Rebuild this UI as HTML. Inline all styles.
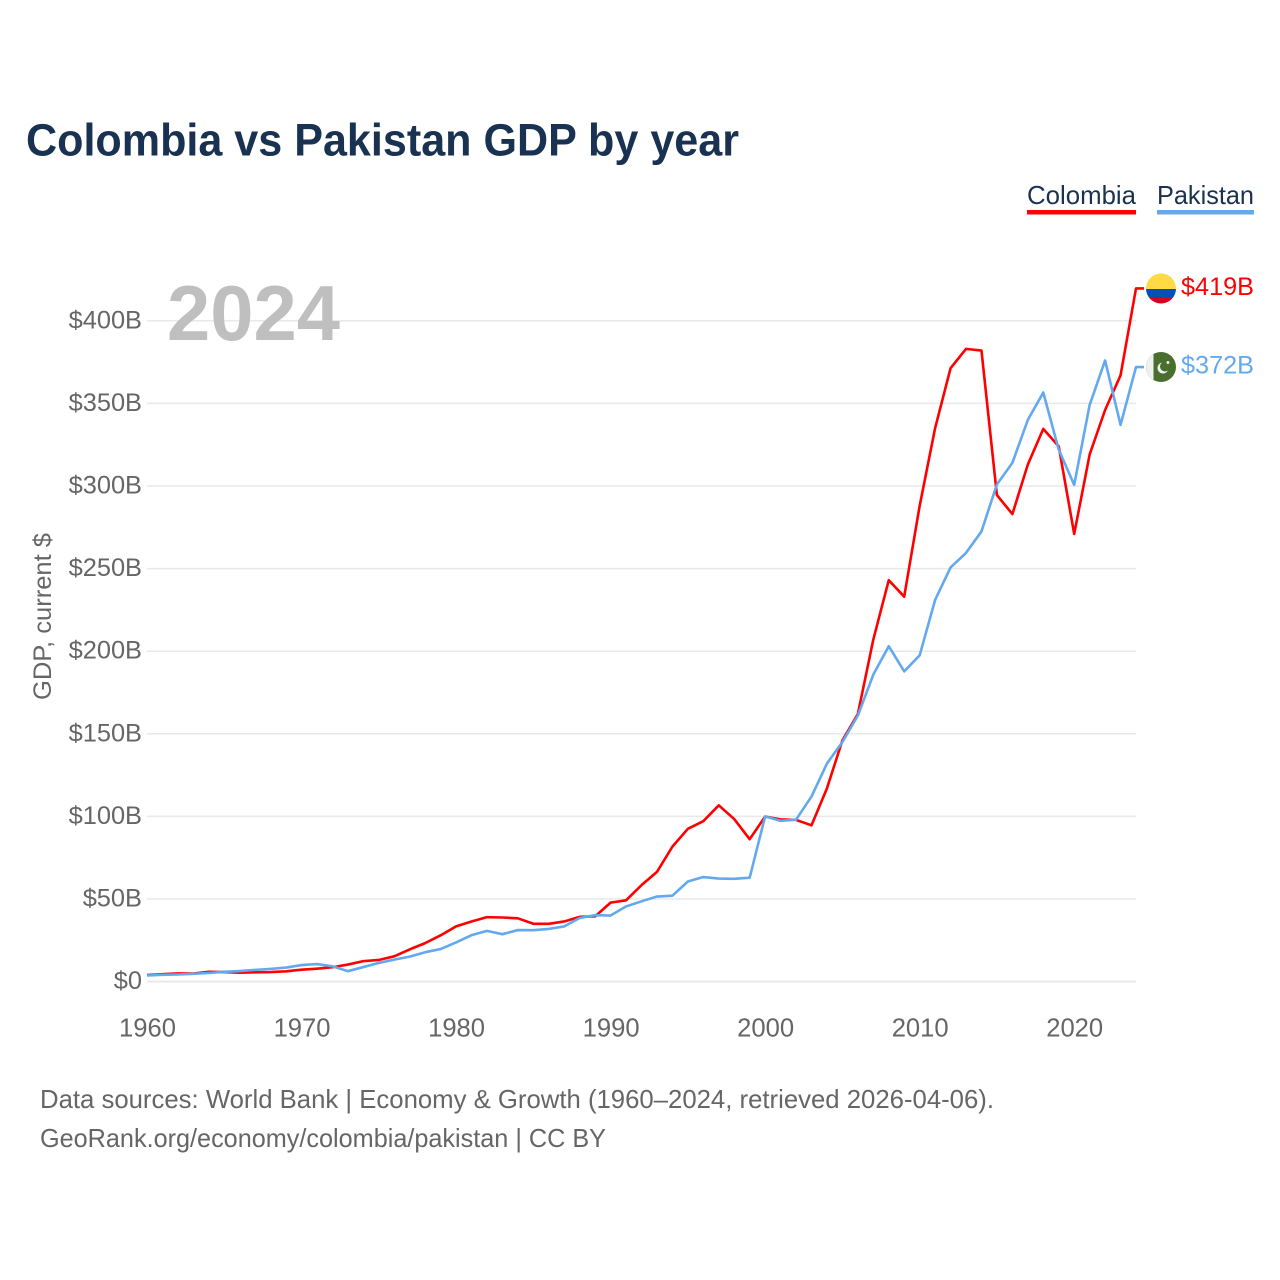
<!DOCTYPE html>
<html lang="en">
<head>
<meta charset="utf-8">
<title>Colombia vs Pakistan GDP by year</title>
<style>
html,body{margin:0;padding:0;background:#fff;}
svg{display:block;font-family:"Liberation Sans",Arial,sans-serif;}
</style>
</head>
<body>
<svg id="chart" width="1280" height="1280" viewBox="0 0 1280 1280" xmlns="http://www.w3.org/2000/svg">
  <rect width="1280" height="1280" fill="#fff"/>
  <text x="26" y="155.5" font-size="45" font-weight="700" fill="#1a3252" textLength="713" lengthAdjust="spacingAndGlyphs">Colombia vs Pakistan GDP by year</text>

  <g>
    <g>
      <text x="1027" y="204" font-size="26" fill="#1a3252" textLength="109" lengthAdjust="spacingAndGlyphs">Colombia</text>
      <rect x="1027" y="210" width="109" height="4.5" fill="#ff0000"/>
    </g>
    <g>
      <text x="1157" y="204" font-size="26" fill="#1a3252" textLength="97" lengthAdjust="spacingAndGlyphs">Pakistan</text>
      <rect x="1157" y="210" width="97" height="4.5" fill="#63a9ef"/>
    </g>
  </g>

  <g id="grid"></g>
  <g id="yticks"></g>
  <g id="xticks"></g>

  <text x="167" y="340" font-size="78" font-weight="700" fill="#bfbfbf" textLength="173" lengthAdjust="spacingAndGlyphs">2024</text>

  <text transform="translate(51,700) rotate(-90)" font-size="25" fill="#666" textLength="167" lengthAdjust="spacingAndGlyphs">GDP, current $</text>

  <g id="series"></g>

  <defs>
    <clipPath id="clip-co"><circle cx="1161" cy="288.5" r="15"/></clipPath>
    <clipPath id="clip-pk"><circle cx="1161" cy="367" r="15"/></clipPath>
  </defs>
  <g clip-path="url(#clip-co)">
    <rect x="1146" y="273" width="30" height="16" fill="#ffda44"/>
    <rect x="1146" y="289" width="30" height="8" fill="#0052b4"/>
    <rect x="1146" y="297" width="30" height="8" fill="#d80027"/>
  </g>
  <g clip-path="url(#clip-pk)">
    <rect x="1146" y="352" width="30" height="30" fill="#496e2d"/>
    <rect x="1146" y="352" width="7.5" height="30" fill="#f0f0f0"/>
    <circle cx="1163" cy="368" r="5.5" fill="#f0f0f0"/>
    <circle cx="1165" cy="366.5" r="5" fill="#496e2d"/>
    <circle cx="1168" cy="362.5" r="1.5" fill="#f0f0f0"/>
  </g>

  <text x="1181" y="295" font-size="25" fill="#ff0000" textLength="73" lengthAdjust="spacingAndGlyphs">$419B</text>
  <text x="1181" y="373.5" font-size="25" fill="#63a9ef" textLength="73" lengthAdjust="spacingAndGlyphs">$372B</text>

  <text x="40" y="1108" font-size="26" fill="#666" textLength="954" lengthAdjust="spacingAndGlyphs">Data sources: World Bank | Economy &amp; Growth (1960–2024, retrieved 2026-04-06).</text>
  <text x="40" y="1147" font-size="26" fill="#666" textLength="566" lengthAdjust="spacingAndGlyphs">GeoRank.org/economy/colombia/pakistan | CC BY</text>
</svg>
<script>
const years = [1960,1961,1962,1963,1964,1965,1966,1967,1968,1969,1970,1971,1972,1973,1974,1975,1976,1977,1978,1979,1980,1981,1982,1983,1984,1985,1986,1987,1988,1989,1990,1991,1992,1993,1994,1995,1996,1997,1998,1999,2000,2001,2002,2003,2004,2005,2006,2007,2008,2009,2010,2011,2012,2013,2014,2015,2016,2017,2018,2019,2020,2021,2022,2023,2024];
const colombia = [4.0,4.5,4.95,4.9,5.95,5.8,5.4,5.65,5.8,6.25,7.2,7.8,8.7,10.3,12.4,13.1,15.3,19.5,23.3,28,33.4,36.4,39,38.8,38.3,35,35,36.4,39.2,39.5,47.8,49.2,58.4,66.4,81.7,92.5,97.1,106.7,98.4,86.2,99.9,98.2,97.9,94.6,117,146,162,207,243,233,288,335,371.3,383,382,294.5,283,313,334.6,324,271,319,346,367,419.6];
const pakistan = [3.7,4.1,4.3,4.7,5.2,5.9,6.4,7.1,7.7,8.5,10,10.6,9.3,6.3,8.8,11.3,13.3,15.1,17.8,19.7,23.7,28.1,30.7,28.7,31.2,31.1,31.9,33.4,38.5,40.2,40,45.5,48.6,51.5,52,60.6,63.3,62.4,62.2,62.9,100,97.3,98,112,132,145,161,185.8,203,187.8,197.5,231,250.7,259.5,272.5,301,314,340,356.6,322,300.7,349,376,337,372];
const yTickValues = [0,50,100,150,200,250,300,350,400];
const yTickLabels = ["$0","$50B","$100B","$150B","$200B","$250B","$300B","$350B","$400B"];
const xTickValues = [1960,1970,1980,1990,2000,2010,2020];

const NS = "http://www.w3.org/2000/svg";
function xScale(year){ return 147 + (year - 1960) * (989 / 64); }
function yScale(v){ return 981.6 - v * 1.652; }
function make(tag, parent, attrs, text){
  const el = document.createElementNS(NS, tag);
  for (const k in attrs) el.setAttribute(k, attrs[k]);
  if (text !== undefined) el.textContent = text;
  parent.appendChild(el);
  return el;
}

const grid = document.getElementById("grid");
const yticks = document.getElementById("yticks");
const xticks = document.getElementById("xticks");
const series = document.getElementById("series");

yTickValues.forEach(function(v, i){
  const line = make("line", grid, {x1:147, x2:1136, y1:yScale(v), y2:yScale(v), stroke:"#e9e9e9", "stroke-width": v === 0 ? 2 : 1.5});
  
  
  const label = make("text", yticks, {x:142, y:yScale(v) + 7.5, "text-anchor":"end", "font-size":25.4, fill:"#666"}, yTickLabels[i]);
  
  
});

xTickValues.forEach(function(y){
  const label = make("text", xticks, {x:xScale(y) + 0.5, y:1036.5, "text-anchor":"middle", "font-size":25.6, fill:"#666"}, String(y));
  
  
});

function linePath(values){
  let d = values.map(function(v, i){ return (i ? "L" : "M") + xScale(years[i]).toFixed(2) + " " + yScale(v).toFixed(2); }).join(" ");
  d += " H1144";
  return d;
}

const colombiaLine = make("path", series, {d:linePath(colombia), fill:"none", stroke:"#ff0000", "stroke-width":2.6, "stroke-linejoin":"round"});



const pakistanLine = make("path", series, {d:linePath(pakistan), fill:"none", stroke:"#63a9ef", "stroke-width":2.6, "stroke-linejoin":"round"});


</script>
</body>
</html>
